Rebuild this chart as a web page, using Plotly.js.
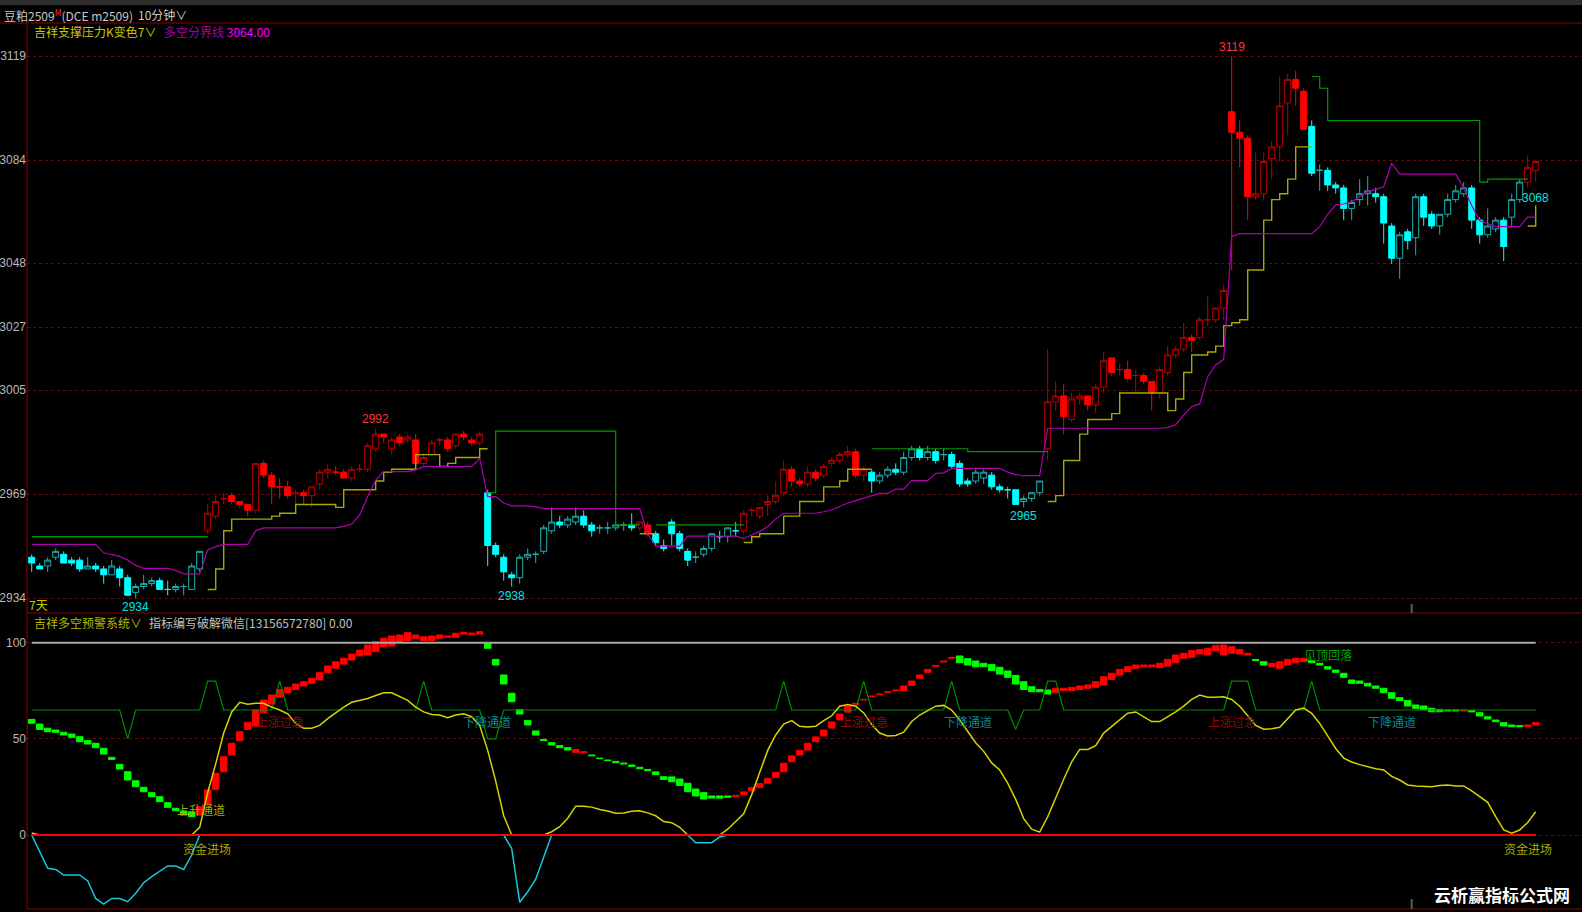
<!DOCTYPE html>
<html><head><meta charset="utf-8">
<script src="https://cdn.plot.ly/plotly-3.0.1.min.js"></script>
<style>html,body{margin:0;padding:0;background:#000;overflow:hidden}#chart{width:1582px;height:912px}</style>
</head><body><div id="chart"></div>
<script>
// ---------------- DATA ----------------
const openP = [
2948,2945,2945,2948,2949,2947,2947,2944,2945,2944,
2942,2944,2941,2936,2938,2939,2940,2937,2937,2938,
2937,2944,2957,2962,2968,2969,2967,2966,2964,2980,
2976,2972,2972,2970,2970,2969,2973,2977,2977,2977,
2975,2978,2978,2985,2990,2985,2989,2988,2988,2980,
2983,2988,2988,2986,2990,2988,2987,2970,2952,2948,
2942,2941,2948,2949,2950,2957,2960,2959,2960,2962,
2959,2958,2958,2958,2959,2959,2958,2959,2956,2952,
2960,2956,2950,2948,2949,2951,2955,2955,2957,2957,
2964,2962,2966,2967,2970,2978,2974,2973,2977,2976,
2980,2981,2983,2984,2976,2977,2974,2976,2978,2977,
2982,2985,2982,2984,2983,2983,2980,2974,2974,2975,
2976,2972,2971,2971,2967,2968,2970,2985,3001,3003,
2995,3002,3003,3000,3006,3016,3012,3012,3010,3010,
3008,3004,3011,3017,3019,3023,3023,3029,3029,3033,
3100,3093,3091,3071,3072,3084,3088,3103,3111,3107,
3095,3080,3080,3075,3074,3067,3070,3072,3072,3071,
3061,3050,3059,3057,3071,3065,3061,3065,3070,3072,
3074,3063,3058,3060,3063,3064,3070,3076,3080];
const highP = [
2949,2946,2948,2951,2950,2948,2948,2948,2946,2945,
2947,2945,2942,2939,2942,2941,2941,2940,2939,2939,
2946,2950,2966,2969,2970,2970,2967,2966,2980,2981,
2977,2975,2974,2971,2971,2972,2978,2980,2979,2978,
2979,2980,2987,2992,2990,2989,2990,2990,2990,2983,
2988,2989,2989,2990,2991,2989,2991,2971,2953,2949,
2943,2949,2951,2950,2959,2965,2962,2962,2965,2964,
2960,2959,2960,2960,2960,2963,2960,2960,2957,2954,
2961,2957,2951,2950,2952,2956,2957,2958,2960,2964,
2965,2965,2969,2974,2981,2979,2975,2979,2978,2980,
2982,2984,2986,2985,2979,2978,2977,2979,2980,2984,
2986,2986,2986,2985,2985,2984,2981,2975,2978,2978,
2977,2973,2972,2971,2969,2970,2974,3019,3008,3007,
3004,3004,3003,3007,3018,3016,3014,3015,3012,3011,
3008,3013,3020,3020,3028,3024,3030,3037,3033,3041,
3119,3097,3092,3086,3086,3090,3112,3113,3114,3108,
3097,3082,3081,3076,3075,3070,3077,3078,3074,3072,
3062,3059,3060,3072,3072,3066,3065,3072,3075,3076,
3075,3064,3067,3064,3064,3072,3077,3085,3083];
const lowP = [
2943,2944,2943,2947,2946,2945,2943,2944,2943,2939,
2942,2938,2935,2934,2937,2938,2937,2935,2936,2935,
2937,2943,2956,2961,2966,2966,2965,2962,2963,2975,
2966,2968,2968,2966,2966,2965,2971,2975,2976,2975,
2974,2977,2977,2984,2987,2983,2986,2987,2979,2979,
2983,2986,2984,2985,2988,2986,2986,2945,2948,2940,
2938,2939,2947,2946,2949,2956,2958,2958,2959,2958,
2955,2956,2956,2957,2957,2957,2957,2955,2952,2950,
2952,2950,2945,2946,2948,2950,2953,2953,2955,2956,
2962,2961,2962,2966,2969,2972,2972,2972,2974,2975,
2979,2980,2982,2975,2974,2970,2973,2975,2976,2976,
2981,2981,2981,2980,2981,2978,2972,2972,2973,2973,
2971,2970,2968,2966,2965,2967,2969,2981,2998,2990,
2994,3000,2998,2997,3004,3010,3010,3008,3004,3007,
2998,3002,3010,3016,3018,3018,3022,3027,3028,3029,
3046,3081,3063,3070,3070,3077,3083,3092,3102,3094,
3078,3073,3073,3072,3063,3063,3068,3068,3069,3055,
3048,3043,3053,3051,3061,3060,3058,3064,3069,3071,
3060,3055,3057,3059,3049,3061,3069,3074,3076];
const closeP = [
2946,2944,2947,2950,2946,2946,2944,2945,2944,2942,
2945,2941,2935,2938,2939,2940,2937,2937,2938,2938,
2945,2950,2963,2967,2968,2967,2966,2964,2980,2976,
2972,2972,2969,2970,2969,2972,2977,2978,2977,2975,
2978,2978,2986,2990,2989,2988,2987,2989,2980,2982,
2987,2988,2985,2990,2989,2987,2990,2952,2949,2943,
2941,2948,2949,2949,2958,2960,2959,2961,2962,2959,
2957,2958,2958,2959,2959,2958,2960,2956,2953,2951,
2956,2951,2947,2948,2951,2956,2955,2958,2957,2963,
2964,2965,2967,2969,2978,2974,2973,2977,2975,2979,
2981,2983,2984,2976,2978,2974,2976,2978,2977,2982,
2985,2982,2984,2981,2983,2979,2973,2973,2977,2977,
2972,2971,2971,2966,2968,2970,2974,3001,3003,2996,
3002,3003,3000,3006,3015,3011,3012,3009,3010,3008,
3004,3012,3017,3019,3023,3022,3029,3029,3033,3039,
3093,3091,3071,3072,3083,3088,3102,3111,3108,3094,
3079,3080,3075,3074,3067,3069,3072,3073,3071,3062,
3050,3058,3056,3071,3064,3061,3065,3070,3073,3074,
3063,3058,3061,3063,3054,3070,3076,3081,3083];
// candle colour state: r = bullish (red), c = bearish (cyan)
const candleRuns = [['c',22],['r',35],['c',19],['r',2],['c',11],['r',16],['c',22],['r',33],['c',27],['r',2]];
// 吉祥支撑压力 lines (green = pressure, yellow = support)
const pressLine = [
2955,2955,2955,2955,2955,2955,2955,2955,2955,2955,
2955,2955,2955,2955,2955,2955,2955,2955,2955,2955,
2955,2955,2955,null,null,null,null,null,null,null,
null,null,null,null,null,null,null,null,null,null,
null,null,null,null,null,null,null,null,null,null,
null,null,null,null,null,null,null,2970,2991,2991,
2991,2991,2991,2991,2991,2991,2991,2991,2991,2991,
2991,2991,2991,2959,2959,2959,2959,null,2959,2959,
2959,2959,2959,2959,2959,2959,2959,2959,2959,2959,
null,null,null,null,null,null,null,null,null,null,
null,null,null,null,null,2985,2985,2985,2985,2985,
2985,2985,2985,2985,2985,2985,2985,2984,2984,2984,
2984,2984,2984,2984,2984,2984,2984,2984,null,null,
null,null,null,null,null,null,null,null,null,null,
null,null,null,null,null,null,null,null,null,null,
null,null,null,null,null,null,null,null,null,null,
3112,3108,3097,3097,3097,3097,3097,3097,3097,3097,
3097,3097,3097,3097,3097,3097,3097,3097,3097,3097,
3097,3076,3077,3077,3077,3077,3077,3077,null];
const supportLine = [
null,null,null,null,null,null,null,null,null,null,
null,null,null,null,null,null,null,null,null,null,
null,null,2937,2944,2957,2961,2961,2961,2961,2961,
2962,2963,2963,2966,2966,2966,2966,2966,2965,2971,
2971,2971,2971,2974,2977,2978,2978,2978,2983,2983,
2983,2979,2980,2982,2982,2982,2985,2985,null,null,
null,null,null,null,null,null,null,null,null,null,
null,null,null,null,null,null,2956,2956,2956,null,
null,null,null,null,null,null,null,null,null,2953,
2955,2956,2956,2956,2962,2962,2967,2967,2967,2972,
2972,2974,2978,2978,2978,2978,null,null,null,null,
null,null,null,null,null,null,null,null,null,null,
null,null,null,null,null,null,null,2967,2969,2981,
2981,2990,2995,2995,2995,2997,3004,3004,3004,3004,
3004,3004,2998,3002,3011,3017,3017,3018,3020,3027,
3028,3029,3046,3046,3063,3070,3072,3077,3088,3088,
3088,null,null,null,null,null,null,null,null,null,
null,null,null,null,null,null,null,null,null,null,
null,null,null,null,null,null,null,3061,3068];
// 多空分界线
const divideLine = [
2952.4,2952.4,2952.4,2952.4,2952.4,2952.4,2952.4,2952.4,2952.4,2949.5,
2949,2948.3,2947,2945.2,2944.2,2944.2,2944.2,2944.2,2943.5,2942.3,
2942.3,2942.3,2950.5,2951.6,2952.4,2952.4,2952.4,2952.4,2957,2958,
2958,2958,2958,2958,2958,2958,2958,2958,2958,2958.5,
2959.3,2962.4,2968.7,2974.3,2977.2,2977.2,2977.2,2977.2,2977.8,2978.9,
2978.9,2978.9,2978.9,2978.9,2978.9,2978.9,2981.7,2968.7,2968.7,2966.5,
2965.5,2965.5,2965.5,2965.2,2964.6,2964.6,2964.6,2964.6,2964.6,2964.6,
2964.6,2964.6,2964.6,2964.6,2964.6,2964.6,2964.6,2956,2951.8,2951.8,
2951.8,2951.8,2955.2,2955.2,2955.2,2955.2,2955.2,2955.2,2955.2,2954.4,
2955.6,2956.8,2958.5,2961,2963,2963,2963,2963,2963,2963.5,
2964.1,2965.3,2966.5,2967.3,2968.1,2969,2969.8,2969.8,2971.2,2971.2,
2974.1,2974.1,2974.1,2976.6,2976.8,2978.3,2978.3,2978.3,2978.3,2978.3,
2978.3,2978.3,2977,2976.2,2975.8,2975.8,2975.8,2992,2992,2992,
2992,2992,2992,2992,2992,2992,2992,2992,2992,2992,
2992,2992,2992.3,2993.2,2996.5,2999.4,3000.3,3009.6,3013.6,3015.5,
3057.4,3058.4,3058.4,3058.4,3058.4,3058.4,3058.4,3058.4,3058.4,3058.4,
3058.4,3060.8,3065,3068.2,3068.5,3069.3,3071,3072.8,3073.5,3074.4,
3082.4,3078.7,3078.7,3078.7,3078.7,3078.7,3078.7,3078.7,3078.7,3074,
3068,3062.8,3061.9,3060.8,3060.8,3060.8,3060.8,3064,3064];
const priceTickVals = [3119, 3083.5, 3048.3, 3026.5, 3005, 2969.5, 2934];
const priceTickText = ['3119','3084','3048','3027','3005','2969','2934'];
const highMarks = [43, 150];
const lowMarks = [13, 60, 124];
const lastMarkIdx = 188, lastMarkVal = 3068;
const sessionBreaks = [172.5];

// 吉祥多空预警系统
const sigTop = [
60.1,57.7,55.5,54.6,53.4,52.5,51.1,49.1,47.7,45.1,
40.4,36.7,32.9,28.2,24.8,22.0,19.9,16.8,13.9,12.5,
12.1,14.7,23.4,32.1,40.7,47.7,53.7,58.6,65.0,70.2,
72.8,75.7,76.8,78.5,79.7,81.5,84.4,87.9,90.1,91.9,
94.1,96.2,98.8,100.5,102.3,103.5,104.0,105.2,104.0,103.1,
103.5,104.0,103.5,104.9,105.4,105.0,105.7,100.0,91.3,83.2,
73.7,65.3,59.5,54.1,49.7,48.0,46.5,45.4,44.5,43.3,
41.6,40.0,39.0,38.3,37.4,36.4,35.2,34.1,32.8,30.3,
30.2,29.1,26.9,23.9,22.0,20.3,20.3,20.3,20.6,22.4,
24.6,26.7,29.5,32.6,37.3,41.1,43.9,47.7,51.0,54.6,
58.8,62.9,67.1,68.5,70.5,72.3,73.3,74.5,75.4,77.5,
80.1,83.2,86.1,88.2,90.5,92.4,93.1,91.7,90.5,89.3,
88.7,87.2,85.3,83.0,79.7,77.1,75.7,75.4,76.3,76.3,
76.8,77.5,78.0,79.7,82.3,84.1,86.1,87.5,88.4,88.4,
88.4,89.3,91.3,93.6,94.5,95.9,96.5,97.1,98.6,98.8,
97.9,96.5,94.5,91.3,90.1,89.3,90.1,91.3,91.9,91.9,
90.7,89.3,87.5,85.8,84.1,80.6,80.1,78.9,77.5,76.3,
74.0,71.4,69.9,67.6,67.1,65.9,65.3,65.0,65.0,65.0,
64.7,63.6,61.5,59.8,58.4,57.2,56.9,57.2,58.4];
const sigBot = [
58.1,54.9,53.7,53.4,52.0,50.8,48.5,47.3,45.4,42.1,
39.3,34.3,28.6,25.1,22.5,19.9,17.3,14.4,12.6,10.4,
9.5,10.4,16.1,23.7,32.9,41.6,49.1,54.9,56.7,63.6,
68.1,71.6,74.0,75.7,77.5,78.9,80.6,84.4,86.7,88.9,
91.0,93.1,93.6,95.3,97.9,98.3,100.0,101.1,102.3,101.1,
101.1,102.3,102.8,102.8,104.5,104.2,104.5,97.1,88.4,78.5,
69.3,62.9,57.2,52.0,49.1,46.8,45.4,44.2,43.0,42.8,
41.2,39.7,38.7,37.6,36.9,35.7,34.5,33.5,31.4,28.9,
27.7,25.8,22.5,20.3,18.7,19.2,19.2,19.6,19.9,21.0,
22.9,24.6,26.9,29.8,32.9,38.1,41.6,44.2,48.5,51.5,
55.6,59.8,63.9,68.0,70.2,71.9,73.0,74.2,75.1,75.1,
77.7,81.5,84.6,87.7,90.0,91.9,89.6,88.4,87.5,87.5,
85.5,83.7,82.0,78.5,75.7,74.5,74.5,73.3,74.0,75.1,
75.1,75.7,76.3,76.8,78.0,80.9,83.2,84.9,86.7,87.5,
87.5,87.0,87.9,89.6,91.9,92.4,94.1,93.6,95.9,93.6,
94.5,94.1,93.6,90.7,88.4,87.5,86.7,88.4,89.6,90.1,
89.6,88.4,86.3,84.6,82.0,78.9,78.9,77.5,76.3,74.0,
71.1,69.9,67.1,65.9,65.3,64.1,64.1,64.5,64.5,64.5,
64.0,61.9,60.3,58.9,56.7,56.3,56.3,56.3,57.2];
const sigRuns = [['g',21],['r',36],['g',11],['r',2],['g',18],['r',28],['g',12],['r',25],['g',2],['r',5],['g',19],['r',1],['g',7],['r',2]];
const fundLine = [
1,0,0,0,0,0,0,0,0,0,
0,0,0,0,0,0,0,0,0,0,
0,4,22,37,53,64,69,68,68.5,68.5,
66.5,65,63,58,55.5,55.5,57,60.5,63.5,66.5,
69,70,71,72.5,74,74,72,70,66.5,64,
62.7,62.4,61,62.4,63,61.5,57,44,28,10,
0,0,0,0,0,1.7,4.3,8.7,15,15,
14.5,13.3,12.5,11.3,11.5,12.3,12.6,11.5,10,7,
6.4,4,0,0,0,0,0,3,7,11,
21,32,44,52,57.7,59.5,56.5,56.2,56.5,59.5,
62,67,67.8,67,63.5,57.5,53,51.5,51.8,53.5,
59,62.4,64.5,67,67.4,65,59.8,54,48,43.5,
37.5,33.8,27,18.5,8.5,3,1.5,9.5,19.5,29,
38,44.5,44.5,46.5,53,56.3,60,63.3,64,61.5,
59,59,61.5,64,67,70.5,72.8,71.6,71.6,71.9,
70.5,67,62,57,55,55.2,56,60.5,65,66,
63.3,58,51.5,45,40,38,36.6,35.5,34.5,33.8,
30.5,28.6,26,25.5,25.3,25.1,25.8,26,25.5,25.5,
23,20,17,9.5,2.6,1,2.6,6.5,12.1];
const outflowX = [0,1,2,3,4,5,6,7,8,9,10,11,12,13,14,15,16,17,18,19,20,21,null,59,60,61,62,63,64,65,null,82,83,84,85,86,87];
const outflowY = [0,-8.5,-17.3,-17.9,-20.8,-20.8,-20.8,-23.9,-33,-35.9,-33,-33,-34.7,-30.3,-24.8,-21.7,-19.1,-16.1,-16.1,-17.9,-10.4,0,null,0,-7,-35,-29.5,-23,-11.5,0,null,0,-4,-4,-4,-1,0];
const channelLine = [
65,65,65,65,65,65,65,65,65,65,
65,65,50,65,65,65,65,65,65,65,
65,65,80,80,65,65,65,65,65,65,
65,80,65,65,65,65,65,65,65,65,
65,65,65,65,65,65,65,65,65,80,
65,65,65,65,65,65,65,50,50,65,
65,65,65,65,65,65,65,65,65,65,
65,65,65,65,65,65,65,65,65,65,
65,65,65,65,65,65,65,65,65,65,
65,65,65,65,80,65,65,65,65,65,
65,65,65,65,80,65,65,65,65,65,
65,65,65,65,65,80,65,65,65,65,
65,65,65,55,65,65,65,80,80,65,
65,65,65,65,65,65,65,65,65,65,
65,65,65,65,65,65,65,65,65,65,
80,80,80,65,65,65,65,65,65,65,
80,65,65,65,65,65,65,65,65,65,
65,65,65,65,65,65,65,65,65,65,
65,65,65,65,65,65,65,65,65];
const sigTickVals = [100, 50, 0];
const sigLabText = ['上升通道','上涨过急','下降通道','资金进场','上涨过急','下降通道','上涨过急','见顶回落','下降通道','资金进场'];
const sigLabIdx  = [21.2, 31, 56.9, 21.9, 104, 117, 150, 162, 170, 187];
const sigLabVal  = [13.5, 58.8, 58.8, -6.8, 58.8, 58.8, 58.8, 94.1, 58.8, -6.8];

// ---------------- DRAWING ----------------
const N = openP.length;
const idx = openP.map((_, i) => i);
const expand = runs => runs.flatMap(([s, n]) => Array(n).fill(s));
const candleState = expand(candleRuns);
const sigState = expand(sigRuns);

// pixel frame
const L = 27, R = 1582, T = 23, B = 909, SPLIT = 613;
const W = R - L, H = B - T;
const pxX = x => (x - L) / W;
const pxY = y => (B - y) / H;
const x0px = 31.7, step = 8;   // first bar centre and spacing in px
const pxToIdx = x => (x - x0px) / step;

function candleTrace(st, upCol, dnCol) {
  const ids = idx.filter(i => candleState[i] === st);
  return {
    type: 'candlestick', xaxis: 'x', yaxis: 'y',
    x: ids, open: ids.map(i => openP[i]), high: ids.map(i => highP[i]),
    low: ids.map(i => lowP[i]), close: ids.map(i => closeP[i]),
    increasing: {line: {color: upCol, width: 1}, fillcolor: '#000000'},
    decreasing: {line: {color: dnCol, width: 1}, fillcolor: dnCol},
    whiskerwidth: 0, hoverinfo: 'skip', showlegend: false
  };
}
const line = (x, y, yaxis, color, width, shape) => ({
  type: 'scatter', mode: 'lines', x, y, xaxis: 'x', yaxis,
  line: {color, width, shape: shape || 'linear'}, connectgaps: false,
  hoverinfo: 'skip', showlegend: false
});

const sigColors = sigState.map(s => s === 'r' ? '#ff0000' : '#00ff00');
const traces = [
  candleTrace('c', '#1fb0b0', '#00ffff'),
  candleTrace('r', '#b80000', '#ff0000'),
  line(idx, pressLine, 'y', '#009a00', 1.2, 'hv'),
  line(idx, supportLine, 'y', '#a8a800', 1.4, 'hv'),
  line(idx, divideLine, 'y', '#b000b0', 1.2),
  {type: 'bar', xaxis: 'x', yaxis: 'y2', x: idx, base: sigBot,
   y: sigTop.map((t, i) => t - sigBot[i]), width: 0.82,
   marker: {color: sigColors, line: {color: sigColors, width: 1}},
   hoverinfo: 'skip', showlegend: false},
  line(idx, idx.map(() => 100), 'y2', '#a8a8a8', 2),
  line(idx, channelLine, 'y2', '#008c00', 1.2),
  line(outflowX, outflowY, 'y2', '#18c8d8', 1.5),
  line(idx, fundLine, 'y2', '#d4d400', 1.5),
  line(idx, idx.map(() => 0), 'y2', '#ff0000', 2)
];

const cjk = 'Noto Sans CJK SC, Liberation Sans, sans-serif';
const num = 'Liberation Sans, DejaVu Sans, sans-serif';
const annotations = [];
const paperText = (x, y, text, color, size, extra) => annotations.push(Object.assign({
  xref: 'paper', yref: 'paper', x: pxX(x), y: pxY(y), text, showarrow: false,
  xanchor: 'left', yanchor: 'middle', font: {family: cjk, size: size || 12, color}
}, extra || {}));

paperText(2, 15, '豆粕2509<sup><span style="color:#ff2a2a">M</span></sup>(DCE m2509)', '#c8c8c8', 12);
paperText(136, 15, '10分钟∨', '#c8c8c8', 12);
paperText(32, 32, '吉祥支撑压力K变色7∨', '#c8c800', 12);
paperText(162, 32, '<span style="color:#a800a8">多空分界线</span> <span style="color:#ff00ff">' + divideLine[N - 1].toFixed(2) + '</span>', '#ff00ff', 12);
paperText(27, 604, '7天', '#c8c800', 12);
paperText(32, 622, '吉祥多空预警系统∨', '#b8b800', 12);
paperText(147, 622, '指标编写破解微信[13156572780] 0.00', '#c0c0c0', 12);
paperText(1572, 894, '<b>云析赢指标公式网</b>', '#ffffff', 17, {xanchor: 'right'});

highMarks.forEach(i => annotations.push({xref: 'x', yref: 'y', x: i, y: highP[i], text: String(highP[i]),
  showarrow: false, yanchor: 'bottom', yshift: 0, font: {family: num, size: 12, color: '#ff3434'}}));
lowMarks.forEach(i => annotations.push({xref: 'x', yref: 'y', x: i, y: lowP[i], text: String(lowP[i]),
  showarrow: false, yanchor: 'top', yshift: 0, font: {family: num, size: 12, color: '#00e4e4'}}));
annotations.push({xref: 'x', yref: 'y', x: lastMarkIdx, y: lastMarkVal, text: String(lastMarkVal),
  showarrow: false, yanchor: 'middle', yshift: 7, font: {family: num, size: 12, color: '#00e4e4'}});

const labColor = t => ({'上升通道': '#a8a800', '资金进场': '#a8a800', '上涨过急': '#a00000',
  '下降通道': '#008c8c', '见顶回落': '#00a000'})[t];
sigLabText.forEach((t, k) => annotations.push({xref: 'x', yref: 'y2', x: sigLabIdx[k], y: sigLabVal[k],
  text: t, showarrow: false, xanchor: 'center', yanchor: 'middle', font: {family: cjk, size: 12, color: labColor(t)}}));

const frame = '#8a0000';
const shapes = [
  {type: 'rect', xref: 'paper', yref: 'paper', x0: pxX(0), x1: 1, y0: pxY(5), y1: pxY(0), fillcolor: '#2f2f2f', line: {width: 0}},
  {type: 'line', xref: 'paper', yref: 'paper', x0: pxX(0), x1: 1, y0: 1, y1: 1, line: {color: frame, width: 1}},
  {type: 'line', xref: 'paper', yref: 'paper', x0: 0, x1: 1, y0: pxY(SPLIT), y1: pxY(SPLIT), line: {color: frame, width: 1}},
  {type: 'line', xref: 'paper', yref: 'paper', x0: 0, x1: 1, y0: 0, y1: 0, line: {color: frame, width: 1}},
  {type: 'line', xref: 'paper', yref: 'paper', x0: 0, x1: 0, y0: 0, y1: 1, line: {color: frame, width: 1}}
];
sessionBreaks.forEach(b => {
  shapes.push({type: 'line', xref: 'x', yref: 'paper', x0: b, x1: b, y0: pxY(SPLIT - 9), y1: pxY(SPLIT), line: {color: '#5a5a5a', width: 2}});
  shapes.push({type: 'line', xref: 'x', yref: 'paper', x0: b, x1: b, y0: 0, y1: pxY(B - 10), line: {color: '#5a5a5a', width: 2}});
});

const gridStyle = {showgrid: true, gridcolor: '#7a0000', griddash: 'dot', gridwidth: 1,
  zeroline: false, showline: false, ticks: '', fixedrange: true, automargin: false,
  tickfont: {family: num, size: 12, color: '#b8b8b8'}};

// top panel: 3119 at y=56px, 2.931 px per point
const pPerPx = 1 / 2.931;
const layout = {
  width: 1582, height: 912,
  margin: {l: L, r: 1582 - R, t: T, b: 912 - B, pad: 0},
  paper_bgcolor: '#000000', plot_bgcolor: '#000000',
  showlegend: false, hovermode: false, dragmode: false,
  boxgap: 0.25, boxgroupgap: 0,
  bargap: 0,
  xaxis: {range: [pxToIdx(L), pxToIdx(R)], showgrid: false, zeroline: false, showticklabels: false,
    ticks: '', showline: false, fixedrange: true, rangeslider: {visible: false}, anchor: 'y2'},
  yaxis: Object.assign({domain: [pxY(SPLIT), 1],
    range: [3119 - (SPLIT - 56) * pPerPx, 3119 + (56 - T) * pPerPx],
    tickvals: priceTickVals, ticktext: priceTickText}, gridStyle),
  yaxis2: Object.assign({domain: [0, pxY(SPLIT)],
    range: [-(B - 835) / 1.923, (835 - SPLIT) / 1.923],
    tickvals: sigTickVals, ticktext: sigTickVals.map(String)}, gridStyle),
  annotations, shapes
};

Plotly.newPlot('chart', traces, layout, {staticPlot: true, displayModeBar: false});
</script></body></html>
